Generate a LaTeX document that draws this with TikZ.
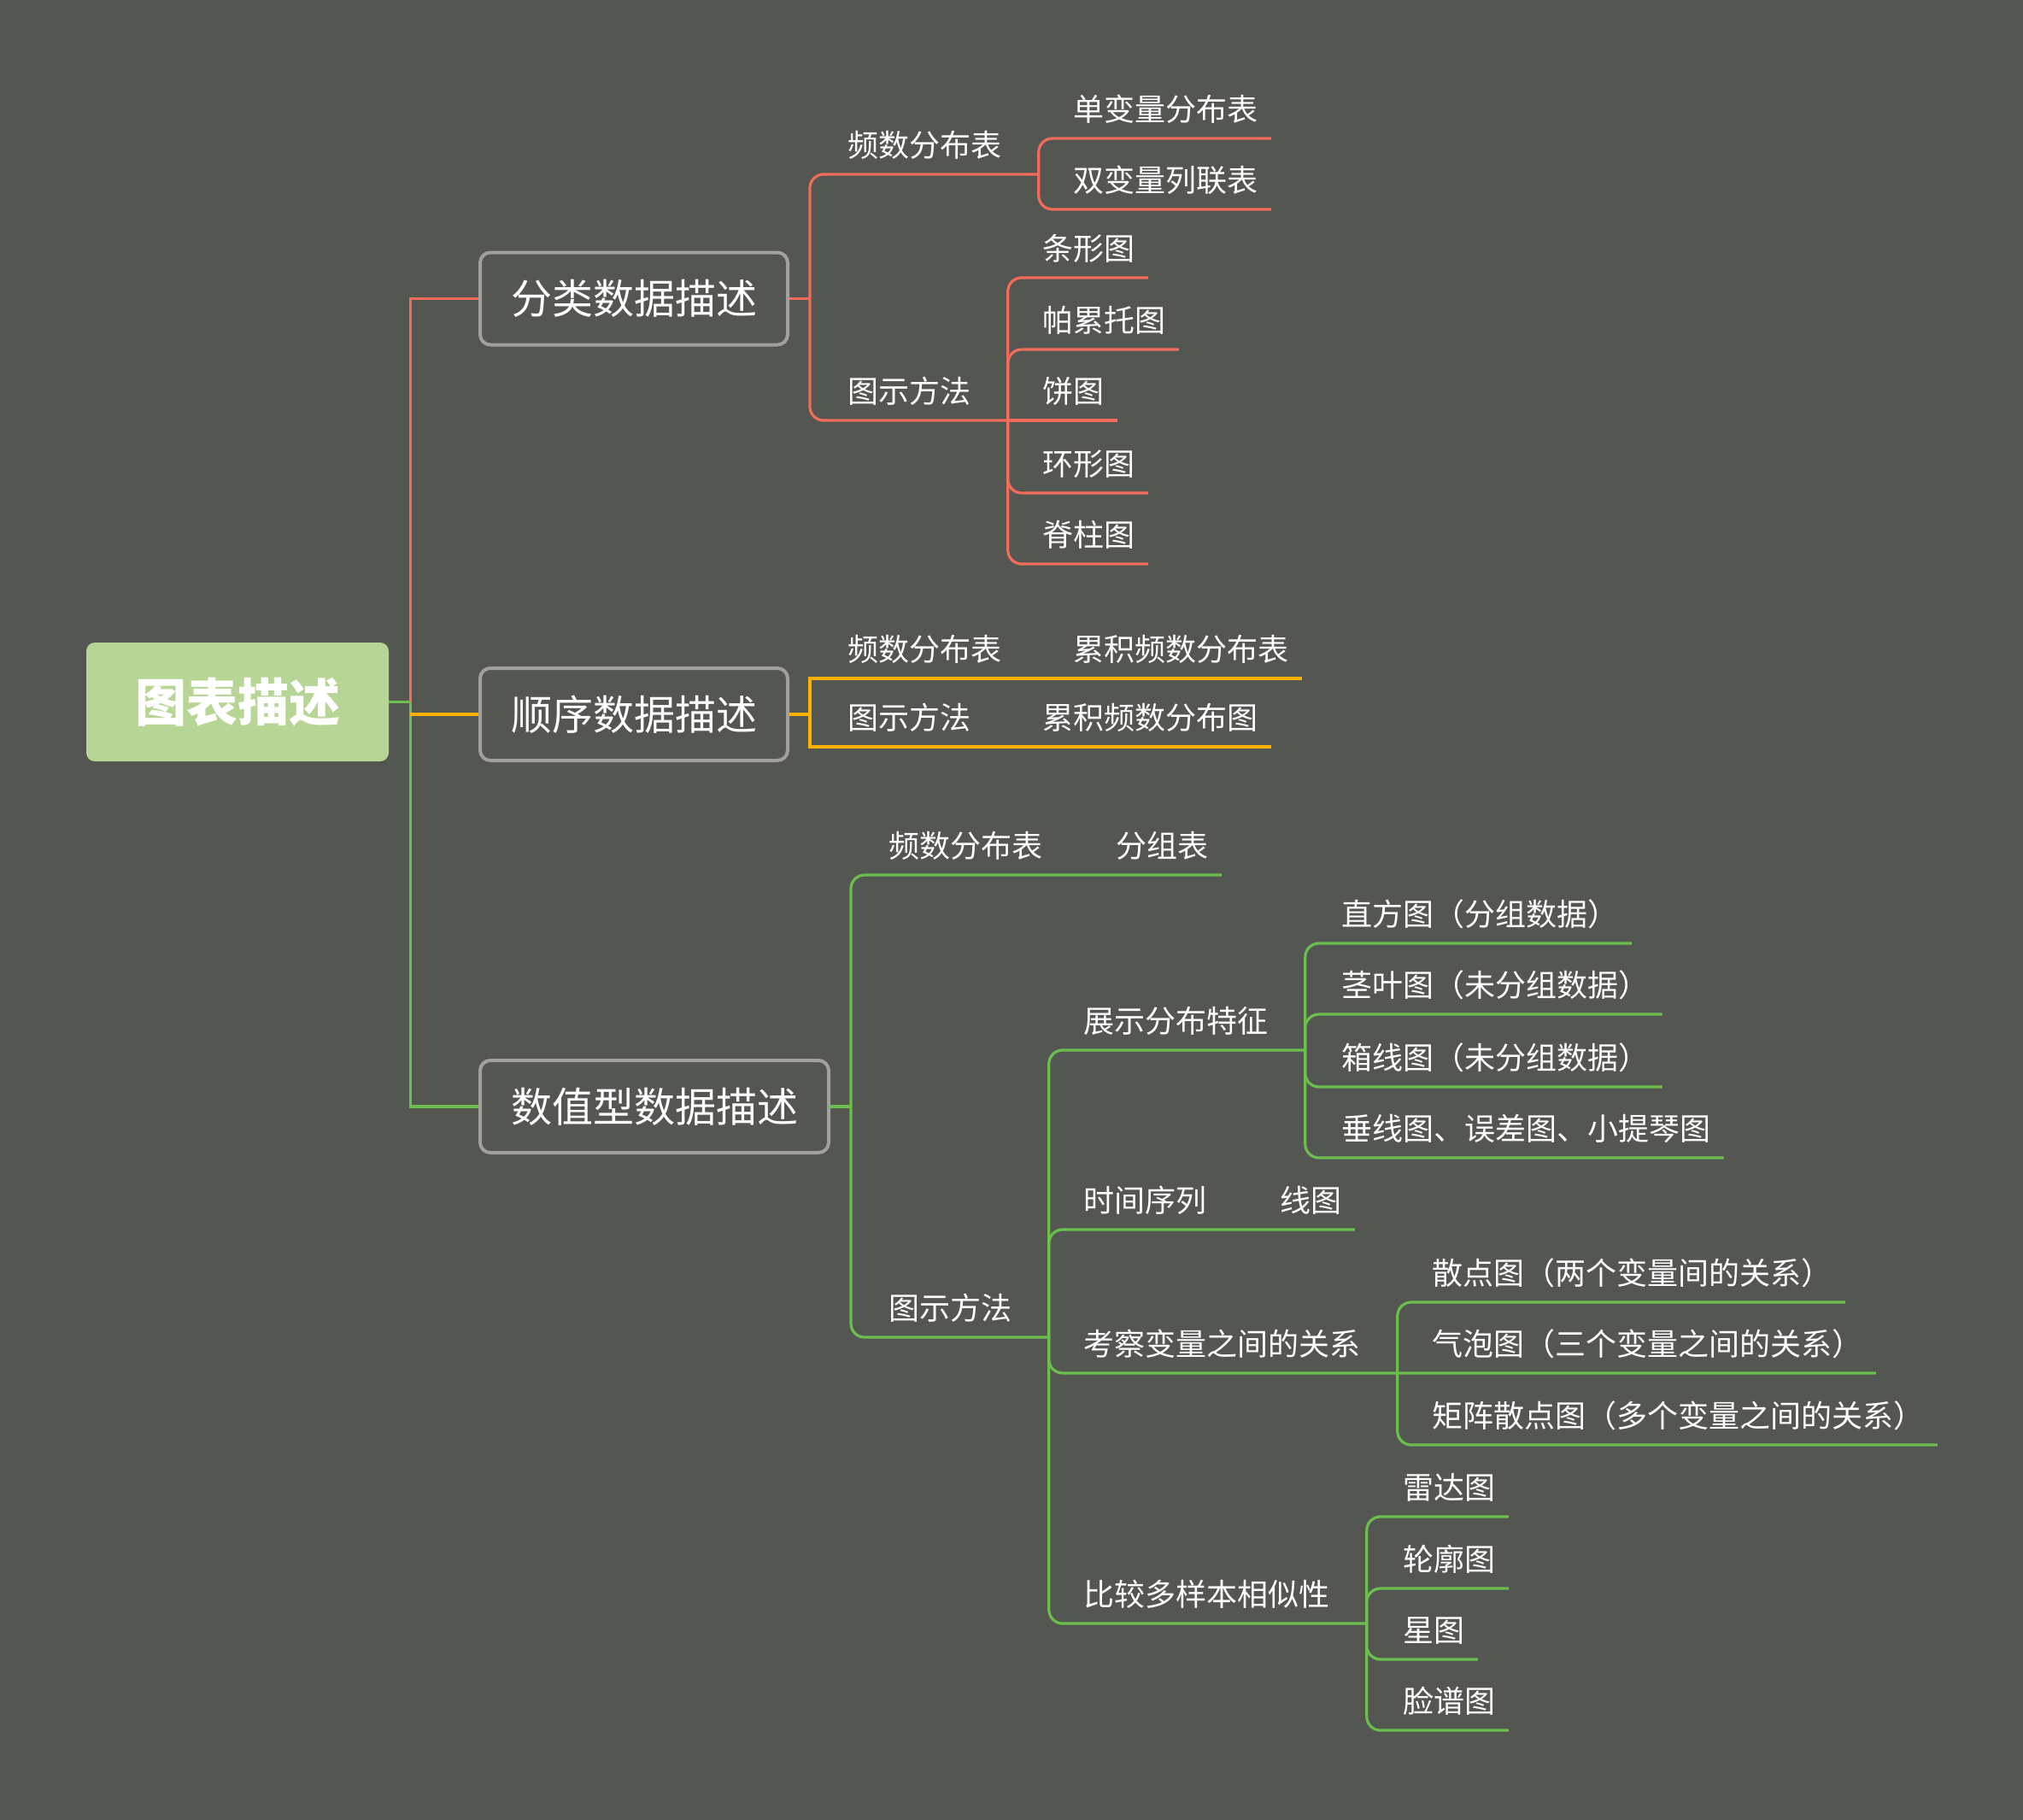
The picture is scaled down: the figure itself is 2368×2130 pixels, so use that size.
\documentclass[tikz,border=0pt]{standalone}
\usepackage{fontspec}
\setmainfont{Noto Sans CJK SC}
\definecolor{bgcolor}{RGB}{84,86,82}
\definecolor{mapred}{RGB}{242,107,91}
\definecolor{maporange}{RGB}{255,178,0}
\definecolor{mapgreen}{RGB}{108,190,77}
\definecolor{rootgreen}{RGB}{183,213,148}
\definecolor{boxgray}{RGB}{160,161,157}

\begin{document}
\begin{tikzpicture}[
    x=0.5pt, y=-0.5pt,
    rootbox/.style={fill=rootgreen, rounded corners=5pt, minimum width=177pt, minimum height=69.5pt,
        text=white, font=\bfseries\fontsize{30pt}{30pt}\selectfont},
    mainbox/.style={draw=boxgray, line width=2pt, fill=bgcolor, rounded corners=6pt, anchor=west,
        minimum height=54pt, inner xsep=18pt, text=white, font=\fontsize{24pt}{24pt}\selectfont},
    topic/.style={anchor=south west, inner xsep=7.5pt, inner ysep=0pt, minimum height=33.5pt,
        text=white, font=\fontsize{18pt}{18pt}\selectfont},
    redline/.style={draw=mapred, line width=1.6pt, rounded corners=8pt},
    orangeline/.style={draw=maporange, line width=1.6pt},
    greenline/.style={draw=mapgreen, line width=1.6pt, rounded corners=8pt}
]
    % Background
    \fill[bgcolor] (0,0) rectangle (2368,2130);

    % Root and main topics
    \node[rootbox] (root) at (278,821.5) {图表描述};
    \node[mainbox] (b1) at (560,349.5) {分类数据描述};
    \node[mainbox] (b2) at (560,836) {顺序数据描述};
    \node[mainbox] (b3) at (560,1295) {数值型数据描述};

    \coordinate (hub) at ([xshift=12.5pt]root.east);
    \draw[greenline, rounded corners=0pt] (root.east) -- (hub) |- (b3.west);
    \draw[redline, rounded corners=0pt] (hub) |- (b1.west);
    \draw[orangeline] (b2.west -| hub) -- (b2.west);

    % Categorical data
    \node[topic] (n11) at (977,204) {频数分布表};
    \node[topic] (n111) at (1241,162) {单变量分布表};
    \node[topic] (n112) at (1241,245) {双变量列联表};
    \node[topic] (n12) at (977,492) {图示方法};
    \node[topic] (n121) at (1205,325) {条形图};
    \node[topic] (n122) at (1205,409) {帕累托图};
    \node[topic] (n123) at (1205,492) {饼图};
    \node[topic] (n124) at (1205,577) {环形图};
    \node[topic] (n125) at (1205,660) {脊柱图};

    \coordinate (j1) at ([xshift=12pt]b1.east);
    \coordinate (j11) at ([xshift=14pt]n11.south east);
    \coordinate (j12) at ([xshift=14pt]n12.south east);
    \draw[redline] (b1.east) -- (j1);
    \draw[redline] (j1) |- (j11);
    \draw[redline] (j1) |- (j12);
    \draw[redline] (j11) |- (n111.south east);
    \draw[redline] (j11) |- (n112.south east);
    \draw[redline] (j12) |- (n121.south east);
    \draw[redline] (j12) |- (n122.south east);
    \draw[redline] (j12) -- (n123.south east);
    \draw[redline] (j12) |- (n124.south east);
    \draw[redline] (j12) |- (n125.south east);

    % Ordinal data
    \node[topic] (n21) at (977,794) {频数分布表};
    \node[topic] (n211) at (1241,794) {累积频数分布表};
    \node[topic] (n22) at (977,874) {图示方法};
    \node[topic] (n221) at (1205,874) {累积频数分布图};

    \coordinate (j2) at ([xshift=12pt]b2.east);
    \coordinate (j21) at ([xshift=14pt]n21.south east);
    \coordinate (j22) at ([xshift=14pt]n22.south east);
    \draw[orangeline] (b2.east) -- (j2);
    \draw[orangeline] (j2) |- (j21) -- (n211.south east);
    \draw[orangeline] (j2) |- (j22) -- (n221.south east);

    % Numerical data
    \node[topic] (n31) at (1025,1024) {频数分布表};
    \node[topic] (n311) at (1291,1024) {分组表};
    \node[topic] (n32) at (1025,1565) {图示方法};
    \node[topic] (n321) at (1253,1229) {展示分布特征};
    \node[topic] (n3211) at (1555,1104) {直方图（分组数据）};
    \node[topic] (n3212) at (1555,1187) {茎叶图（未分组数据）};
    \node[topic] (n3213) at (1555,1272) {箱线图（未分组数据）};
    \node[topic] (n3214) at (1555,1355) {垂线图、误差图、小提琴图};
    \node[topic] (n322) at (1253,1439) {时间序列};
    \node[topic] (n3221) at (1483,1439) {线图};
    \node[topic] (n323) at (1253,1607) {考察变量之间的关系};
    \node[topic] (n3231) at (1661,1524) {散点图（两个变量间的关系）};
    \node[topic] (n3232) at (1661,1607) {气泡图（三个变量之间的关系）};
    \node[topic] (n3233) at (1661,1691) {矩阵散点图（多个变量之间的关系）};
    \node[topic] (n324) at (1253,1900) {比较多样本相似性};
    \node[topic] (n3241) at (1627,1775) {雷达图};
    \node[topic] (n3242) at (1627,1859) {轮廓图};
    \node[topic] (n3243) at (1627,1942) {星图};
    \node[topic] (n3244) at (1627,2025) {脸谱图};

    \coordinate (j3) at ([xshift=12pt]b3.east);
    \coordinate (j31) at ([xshift=14pt]n31.south east);
    \coordinate (j32) at ([xshift=14pt]n32.south east);
    \coordinate (j321) at ([xshift=14pt]n321.south east);
    \coordinate (j322) at ([xshift=14pt]n322.south east);
    \coordinate (j323) at ([xshift=14pt]n323.south east);
    \coordinate (j324) at ([xshift=14pt]n324.south east);
    \draw[greenline] (b3.east) -- (j3);
    \draw[greenline] (j3) |- (j31) -- (n311.south east);
    \draw[greenline] (j3) |- (j32);
    \draw[greenline] (j32) |- (j321);
    \draw[greenline] (j32) |- (j322) -- (n3221.south east);
    \draw[greenline] (j32) |- (j323) -- (n3232.south east);
    \draw[greenline] (j32) |- (j324);
    \draw[greenline] (j321) |- (n3211.south east);
    \draw[greenline] (j321) |- (n3212.south east);
    \draw[greenline] (j321) |- (n3213.south east);
    \draw[greenline] (j321) |- (n3214.south east);
    \draw[greenline] (j323) |- (n3231.south east);
    \draw[greenline] (j323) |- (n3233.south east);
    \draw[greenline] (j324) |- (n3241.south east);
    \draw[greenline] (j324) |- (n3242.south east);
    \draw[greenline] (j324) |- (n3243.south east);
    \draw[greenline] (j324) |- (n3244.south east);
\end{tikzpicture}
\end{document}
